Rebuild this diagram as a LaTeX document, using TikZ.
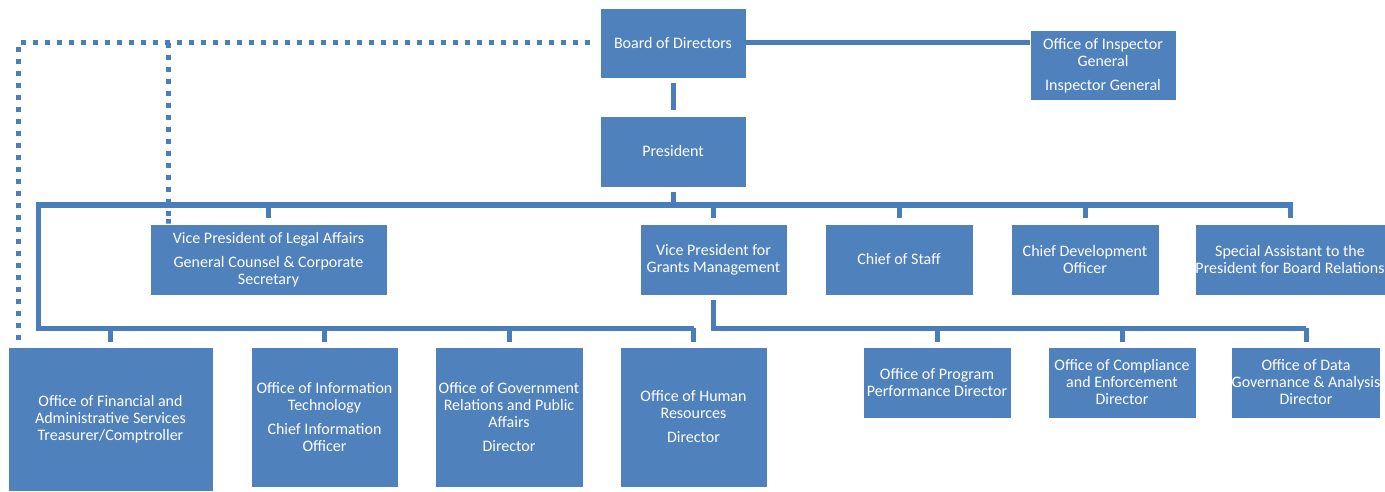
\documentclass[tikz,border=0pt]{standalone}
\usepackage{fontspec}
\setmainfont{Carlito}
\definecolor{boxblue}{HTML}{4F81BD}
\definecolor{lineblue}{HTML}{4A7EBB}

\begin{document}
\begin{tikzpicture}[x=1pt, y=-1pt,
    unit/.style={rectangle, fill=boxblue, draw=white, line width=0.6pt, text=white, align=center,
        inner sep=0pt, font=\fontsize{16}{17}\selectfont},
    link/.style={draw=lineblue, line width=5pt},
    dotlink/.style={draw=lineblue, line width=5pt, dash pattern=on 5pt off 7pt}]
    \useasboundingbox (0,0) rectangle (1385,492);

    \node[unit, minimum width=146, minimum height=70] (board) at (673,43) {Board of Directors};
    \node[unit, minimum width=146, minimum height=70] (ig) at (1103,65.5) {Office of Inspector\\General\\[7pt]Inspector General};
    \node[unit, minimum width=146, minimum height=71] (pres) at (673,151.5) {President};

    \node[unit, minimum width=237, minimum height=71] (vpl) at (268.5,259.5) {Vice President of Legal Affairs\\[7pt]General Counsel \& Corporate\\Secretary};
    \node[unit, minimum width=147, minimum height=71] (vpg) at (713.5,259.5) {Vice President for\\Grants Management};
    \node[unit, minimum width=148, minimum height=71] (cos) at (899,259.5) {Chief of Staff};
    \node[unit, minimum width=148, minimum height=71] (cdo) at (1085,259.5) {Chief Development\\Officer};
    \node[unit, minimum width=190, minimum height=71] (sa) at (1290,259.5) {Special Assistant to the\\President for Board Relations};

    \node[unit, minimum width=205, minimum height=144] (fin) at (110.5,419) {Office of Financial and\\Administrative Services\\Treasurer/Comptroller};
    \node[unit, minimum width=147, minimum height=140] (it) at (324.5,417) {Office of Information\\Technology\\[7pt]Chief Information\\Officer};
    \node[unit, minimum width=148, minimum height=140] (gov) at (509,417) {Office of Government\\Relations and Public\\Affairs\\[7pt]Director};
    \node[unit, minimum width=147, minimum height=140] (hr) at (693.5,417) {Office of Human\\Resources\\[7pt]Director};

    \node[unit, minimum width=148, minimum height=71] (pp) at (937,382.5) {Office of Program\\Performance Director};
    \node[unit, minimum width=148, minimum height=71] (comp) at (1122,382.5) {Office of Compliance\\and Enforcement\\Director};
    \node[unit, minimum width=148, minimum height=71] (data) at (1306,382.5) {Office of Data\\Governance \& Analysis\\Director};

    \coordinate (bus) at (38,205);
    \coordinate (busl) at (38,328);
    \coordinate (busr) at (1306,328);

    \draw[link, shorten <=5pt, shorten >=6pt] (board) -- (pres);
    \draw[link] (board.east) -- (board.east -| ig.west);
    \draw[link] ([yshift=-5pt]pres.south) -- (pres.south |- bus);
    \draw[link] (busl -| hr.north) -- (busl) -- (bus) -- (bus -| sa.north) -- ([yshift=6pt]sa.north);
    \foreach \n in {vpl,vpg,cos,cdo}
        \draw[link] (bus -| \n.north) -- ([yshift=6pt]\n.north);
    \foreach \n in {fin,it,gov,hr}
        \draw[link] (busl -| \n.north) -- ([yshift=5pt]\n.north);
    \draw[link] ([yshift=-5pt]vpg.south) -- (vpg.south |- busr) -- (busr);
    \foreach \n in {pp,comp,data}
        \draw[link] (busr -| \n.north) -- ([yshift=5pt]\n.north);

    \draw[dotlink] ([xshift=-10pt]board.west) -- (18,43) -- (18,345);
    \draw[dotlink] (168,43) -- (vpl.north -| 168,0) -- ([yshift=6pt]vpl.north -| 168,0);
\end{tikzpicture}
\end{document}
